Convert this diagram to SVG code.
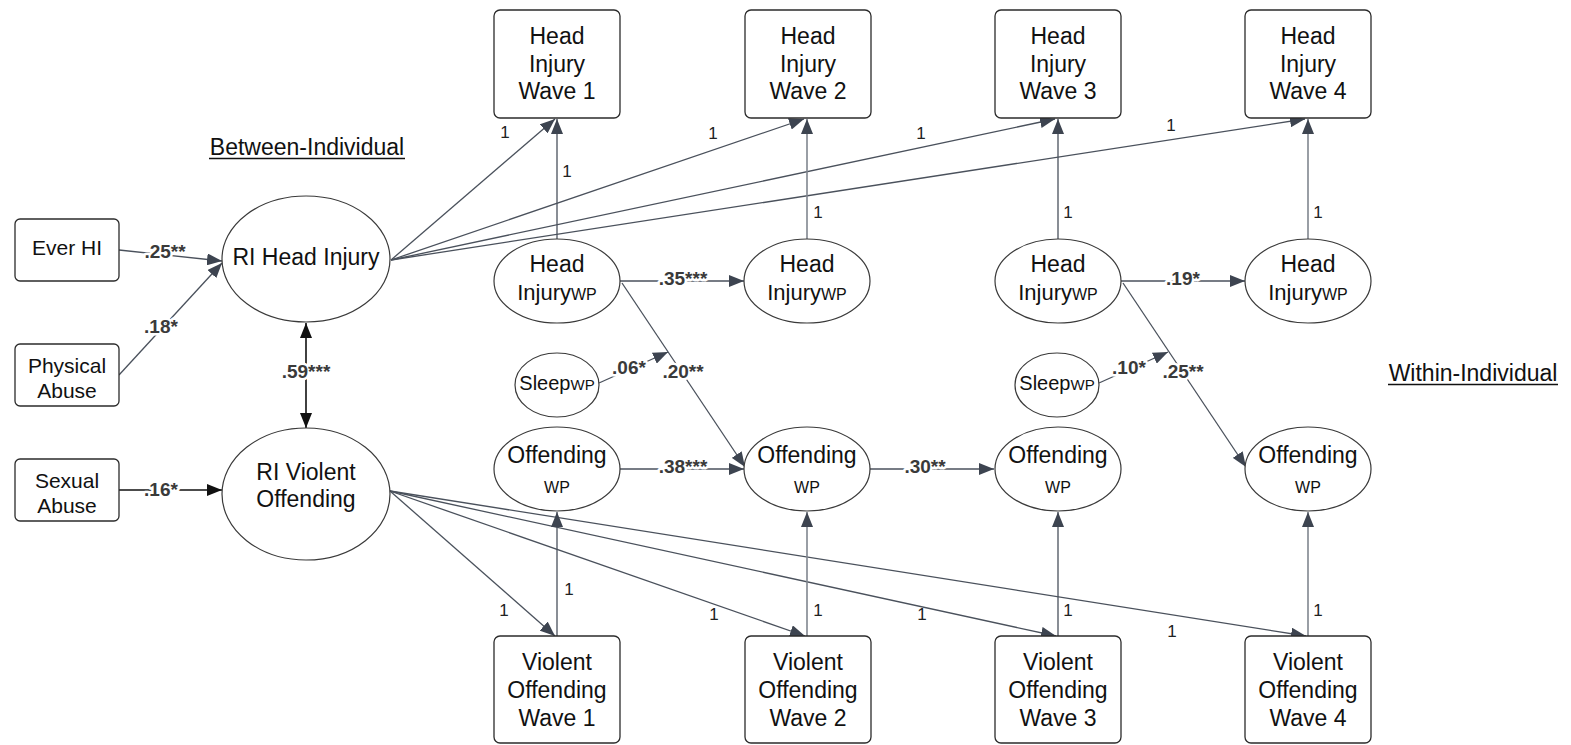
<svg xmlns="http://www.w3.org/2000/svg" width="1571" height="745" viewBox="0 0 1571 745">
<style>
.box{fill:#fff;stroke:#2b2b2b;stroke-width:1.3}
.ell{fill:#fff;stroke:#3a3a3a;stroke-width:1.2}
.t{font-family:"Liberation Sans",Arial,sans-serif;fill:#111;text-anchor:middle}
.big{font-size:23px}
.mid{font-size:21px}
.sub{font-size:16px}
.lbl{font-family:"Liberation Sans",Arial,sans-serif;font-size:19px;font-weight:bold;fill:#3a3a3a;text-anchor:middle;stroke:#fff;stroke-width:5;paint-order:stroke;stroke-linejoin:round}
.one{font-family:"Liberation Sans",Arial,sans-serif;font-size:17px;fill:#222;text-anchor:middle}
.e{fill:none;stroke:#4a515c;stroke-width:1.3;marker-end:url(#ah)}
.el{fill:none;stroke:#80868f;stroke-width:1.6;marker-end:url(#ah)}
.eb{fill:none;stroke:#111;stroke-width:1.6}
</style>
<defs>
<marker id="ah" markerUnits="userSpaceOnUse" markerWidth="15" markerHeight="12" refX="15" refY="6" orient="auto"><path d="M0,0 L15,6 L0,12 z" fill="#3d4450"/></marker>
<marker id="ab" markerUnits="userSpaceOnUse" markerWidth="15" markerHeight="12" refX="15" refY="6" orient="auto-start-reverse"><path d="M0,0 L15,6 L0,12 z" fill="#111"/></marker>
</defs>
<rect width="1571" height="745" fill="#fff"/>

<g id="connectors">
<line class="e" x1="119" y1="250" x2="222" y2="261"/>
<line class="e" x1="119" y1="375" x2="222" y2="263"/>
<line class="eb" x1="119" y1="490" x2="222" y2="490" marker-end="url(#ab)"/>
<line class="eb" x1="306" y1="323" x2="306" y2="428" marker-start="url(#ab)" marker-end="url(#ab)"/>
<line class="e" x1="391" y1="260" x2="555" y2="119"/>
<line class="e" x1="391" y1="260" x2="804" y2="119"/>
<line class="e" x1="391" y1="260" x2="1055" y2="119"/>
<line class="e" x1="391" y1="260" x2="1305" y2="119"/>
<line class="e" x1="557" y1="239" x2="557" y2="119"/>
<line class="el" x1="807" y1="239" x2="807" y2="119"/>
<line class="e" x1="1058" y1="239" x2="1058" y2="119"/>
<line class="el" x1="1308" y1="239" x2="1308" y2="119"/>
<line class="e" x1="620" y1="281" x2="744" y2="281"/>
<line class="e" x1="1121" y1="281" x2="1245" y2="281"/>
<line class="e" x1="622" y1="283" x2="745" y2="467"/>
<line class="e" x1="1123" y1="283" x2="1246" y2="467"/>
<line class="e" x1="599" y1="383" x2="668" y2="352"/>
<line class="e" x1="1099" y1="383" x2="1168" y2="352"/>
<line class="e" x1="620" y1="469" x2="744" y2="469"/>
<line class="e" x1="870" y1="469" x2="994" y2="469"/>
<line class="e" x1="390" y1="491" x2="555" y2="636"/>
<line class="e" x1="390" y1="491" x2="805" y2="636"/>
<line class="e" x1="390" y1="491" x2="1056" y2="636"/>
<line class="e" x1="390" y1="491" x2="1306" y2="636"/>
<line class="e" x1="557" y1="636" x2="557" y2="512"/>
<line class="el" x1="807" y1="636" x2="807" y2="512"/>
<line class="e" x1="1058" y1="636" x2="1058" y2="512"/>
<line class="el" x1="1308" y1="636" x2="1308" y2="512"/>

<text class="lbl" x="165" y="258">.25**</text>
<text class="lbl" x="161" y="333">.18*</text>
<text class="lbl" x="161" y="496">.16*</text>
<text class="lbl" x="306" y="378">.59***</text>
<text class="lbl" x="683" y="285">.35***</text>
<text class="lbl" x="1183" y="285">.19*</text>
<text class="lbl" x="683" y="378">.20**</text>
<text class="lbl" x="1183" y="378">.25**</text>
<text class="lbl" x="629" y="374">.06*</text>
<text class="lbl" x="1129" y="374">.10*</text>
<text class="lbl" x="683" y="473">.38***</text>
<text class="lbl" x="925" y="473">.30**</text>
<text class="one" x="505" y="138">1</text>
<text class="one" x="713" y="139">1</text>
<text class="one" x="921" y="139">1</text>
<text class="one" x="1171" y="131">1</text>
<text class="one" x="567" y="177">1</text>
<text class="one" x="818" y="218">1</text>
<text class="one" x="1068" y="218">1</text>
<text class="one" x="1318" y="218">1</text>
<text class="one" x="504" y="616">1</text>
<text class="one" x="569" y="595">1</text>
<text class="one" x="714" y="620">1</text>
<text class="one" x="818" y="616">1</text>
<text class="one" x="922" y="620">1</text>
<text class="one" x="1068" y="616">1</text>
<text class="one" x="1172" y="637">1</text>
<text class="one" x="1318" y="616">1</text>
</g>

<g id="title-between">
<text class="t" font-size="23" x="307" y="155">Between-Individual</text>
<line x1="209" y1="158.5" x2="405" y2="158.5" stroke="#111" stroke-width="1.4"/>
</g>
<g id="title-within">
<text class="t" font-size="23" x="1473" y="381">Within-Individual</text>
<line x1="1388" y1="384.5" x2="1558" y2="384.5" stroke="#111" stroke-width="1.4"/>
</g>

<g id="ever-hi"><rect class="box" x="15" y="219" width="104" height="62" rx="5"/><text class="t mid" x="67" y="255">Ever HI</text></g>
<g id="physical-abuse"><rect class="box" x="15" y="344" width="104" height="62" rx="5"/><text class="t mid" x="67" y="373">Physical</text><text class="t mid" x="67" y="398">Abuse</text></g>
<g id="sexual-abuse"><rect class="box" x="15" y="459" width="104" height="62" rx="5"/><text class="t mid" x="67" y="488">Sexual</text><text class="t mid" x="67" y="513">Abuse</text></g>

<g id="ri-head-injury"><ellipse class="ell" cx="306" cy="259" rx="84" ry="63"/><text class="t" font-size="23" x="306" y="265">RI Head Injury</text></g>
<g id="ri-violent-offending"><ellipse class="ell" cx="306" cy="494" rx="84" ry="66"/><text class="t" font-size="23" x="306" y="480">RI Violent</text><text class="t" font-size="23" x="306" y="507">Offending</text></g>

<g id="hi-wave1"><rect class="box" x="494" y="10" width="126" height="108" rx="6"/><text class="t big" x="557" y="44">Head</text><text class="t big" x="557" y="71.5">Injury</text><text class="t big" x="557" y="99">Wave 1</text></g>
<g id="hi-wave2"><rect class="box" x="745" y="10" width="126" height="108" rx="6"/><text class="t big" x="808" y="44">Head</text><text class="t big" x="808" y="71.5">Injury</text><text class="t big" x="808" y="99">Wave 2</text></g>
<g id="hi-wave3"><rect class="box" x="995" y="10" width="126" height="108" rx="6"/><text class="t big" x="1058" y="44">Head</text><text class="t big" x="1058" y="71.5">Injury</text><text class="t big" x="1058" y="99">Wave 3</text></g>
<g id="hi-wave4"><rect class="box" x="1245" y="10" width="126" height="108" rx="6"/><text class="t big" x="1308" y="44">Head</text><text class="t big" x="1308" y="71.5">Injury</text><text class="t big" x="1308" y="99">Wave 4</text></g>

<g id="hiwp1"><ellipse class="ell" cx="557" cy="281" rx="63" ry="42"/><text class="t big" x="557" y="272">Head</text><text class="t" font-size="22" x="557" y="300">Injury<tspan font-size="16">WP</tspan></text></g>
<g id="hiwp2"><ellipse class="ell" cx="807" cy="281" rx="63" ry="42"/><text class="t big" x="807" y="272">Head</text><text class="t" font-size="22" x="807" y="300">Injury<tspan font-size="16">WP</tspan></text></g>
<g id="hiwp3"><ellipse class="ell" cx="1058" cy="281" rx="63" ry="42"/><text class="t big" x="1058" y="272">Head</text><text class="t" font-size="22" x="1058" y="300">Injury<tspan font-size="16">WP</tspan></text></g>
<g id="hiwp4"><ellipse class="ell" cx="1308" cy="281" rx="63" ry="42"/><text class="t big" x="1308" y="272">Head</text><text class="t" font-size="22" x="1308" y="300">Injury<tspan font-size="16">WP</tspan></text></g>

<g id="sleep1"><ellipse class="ell" cx="557" cy="385" rx="42" ry="32"/><text class="t" font-size="20" x="557" y="390">Sleep<tspan font-size="15">WP</tspan></text></g>
<g id="sleep2"><ellipse class="ell" cx="1057" cy="385" rx="42" ry="32"/><text class="t" font-size="20" x="1057" y="390">Sleep<tspan font-size="15">WP</tspan></text></g>

<g id="offwp1"><ellipse class="ell" cx="557" cy="469" rx="63" ry="42"/><text class="t big" x="557" y="463">Offending</text><text class="t sub" x="557" y="493">WP</text></g>
<g id="offwp2"><ellipse class="ell" cx="807" cy="469" rx="63" ry="42"/><text class="t big" x="807" y="463">Offending</text><text class="t sub" x="807" y="493">WP</text></g>
<g id="offwp3"><ellipse class="ell" cx="1058" cy="469" rx="63" ry="42"/><text class="t big" x="1058" y="463">Offending</text><text class="t sub" x="1058" y="493">WP</text></g>
<g id="offwp4"><ellipse class="ell" cx="1308" cy="469" rx="63" ry="42"/><text class="t big" x="1308" y="463">Offending</text><text class="t sub" x="1308" y="493">WP</text></g>

<g id="vo-wave1"><rect class="box" x="494" y="636" width="126" height="107" rx="6"/><text class="t big" x="557" y="670">Violent</text><text class="t big" x="557" y="698">Offending</text><text class="t big" x="557" y="726">Wave 1</text></g>
<g id="vo-wave2"><rect class="box" x="745" y="636" width="126" height="107" rx="6"/><text class="t big" x="808" y="670">Violent</text><text class="t big" x="808" y="698">Offending</text><text class="t big" x="808" y="726">Wave 2</text></g>
<g id="vo-wave3"><rect class="box" x="995" y="636" width="126" height="107" rx="6"/><text class="t big" x="1058" y="670">Violent</text><text class="t big" x="1058" y="698">Offending</text><text class="t big" x="1058" y="726">Wave 3</text></g>
<g id="vo-wave4"><rect class="box" x="1245" y="636" width="126" height="107" rx="6"/><text class="t big" x="1308" y="670">Violent</text><text class="t big" x="1308" y="698">Offending</text><text class="t big" x="1308" y="726">Wave 4</text></g>
</svg>
